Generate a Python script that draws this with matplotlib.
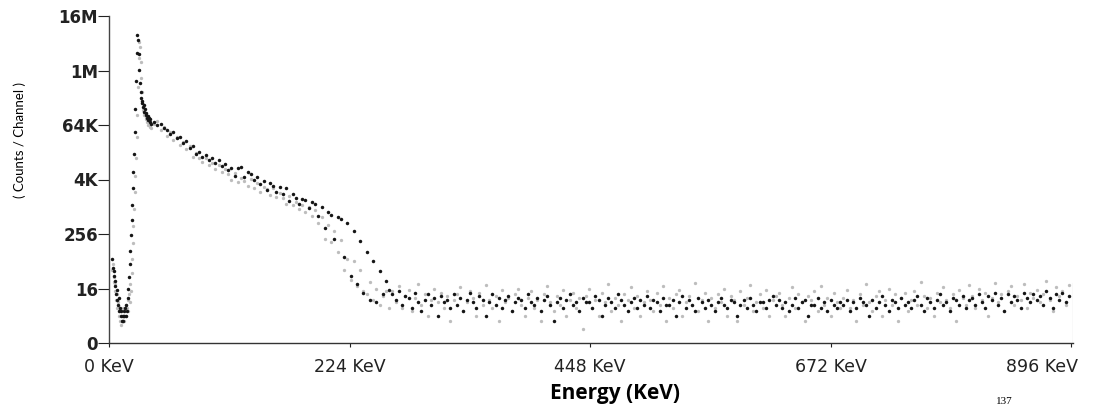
import numpy as np
import matplotlib
matplotlib.use("Agg")
import matplotlib.pyplot as plt
from matplotlib.transforms import ScaledTranslation

# channel energies (keV): fine grid over the low-energy peak, coarse grid after it
e_fine = np.arange(3.0, 39.01, 0.6)
e_coarse = np.arange(42, 895, 3)

# ---- black series (counts / channel) ----
black_fine = [70, 45, 30, 38, 18, 24, 12, 15, 9, 7,
              10, 5, 6, 4, 5, 3, 4, 3, 5, 4,
              6, 4, 7, 5, 10, 16, 28, 55, 110, 240,
              520, 1100, 2600, 6000, 15000, 45000, 150000, 600000, 2.5e6, 6.5e6,
              5.0e6, 2.4e6, 1.1e6, 5.5e5, 3.5e5, 2.6e5, 2.0e5, 2.2e5, 1.6e5, 1.8e5,
              1.3e5, 1.45e5, 1.1e5, 1.2e5, 9.5e4, 1.05e5, 8.5e4, 9.5e4, 7.5e4, 8.8e4,
              7.0e4]
black_slope = [7.5e4, 6.5e4, 7.0e4, 5.5e4, 5.0e4, 4.2e4, 4.6e4, 3.4e4, 3.5e4, 2.6e4,
               2.9e4, 2.0e4, 2.2e4, 1.5e4, 1.7e4, 1.3e4, 1.4e4, 1.1e4, 1.25e4, 9.5e3,
               1.1e4, 8.0e3, 9.0e3, 6.5e3, 7.5e3, 5.0e3, 7.2e3, 7.6e3, 4.6e3, 6.0e3,
               5.5e3, 4.0e3, 4.6e3, 3.3e3, 3.8e3, 2.4e3, 3.4e3, 3.0e3, 2.2e3, 2.8e3,
               2.0e3, 2.6e3, 1.4e3, 2.0e3, 1.6e3, 1.2e3, 1.5e3, 1.45e3, 950, 1.3e3]
black_shoulder = [1200, 650, 1000, 350, 800, 680, 200, 600, 550, 80,
                  450, 30, 300, 20, 180, 13, 100, 9, 65, 8,
                  38, 12, 24, 15]
black_noise = [12, 9, 14, 7, 11, 10, 6, 13, 8, 5, 9, 12, 7, 10, 4, 11, 8, 9, 6, 12,
               7, 10, 5, 9, 13, 8, 6, 11, 9, 4, 8, 12, 7, 10, 6, 9, 11, 5, 8, 10,
               9, 6, 12, 8, 7, 10, 5, 9, 11, 7, 3, 8, 10, 6, 9, 12, 7, 8, 5, 10,
               8, 8, 6, 11, 9, 4, 7, 10, 8, 6, 12, 9, 7, 5, 8, 10, 6, 9, 7, 11,
               6, 9, 8, 5, 10, 7, 7, 9, 4, 8, 11, 6, 9, 7, 5, 10, 8, 6, 9, 7,
               5, 8, 10, 7, 6, 9, 8, 4, 7, 9, 6, 10, 7, 5, 8, 8, 6, 9, 11, 7,
               9, 6, 8, 5, 7, 10, 6, 8, 9, 4, 7, 7, 10, 6, 8, 5, 9, 7, 6, 8,
               7, 9, 5, 8, 6, 10, 8, 7, 4, 9, 6, 8, 11, 7, 5, 9, 8, 6, 10, 7,
               8, 6, 9, 11, 7, 5, 10, 8, 6, 9, 12, 7, 8, 5, 10, 9, 7, 11, 6, 9,
               10, 7, 12, 8, 6, 11, 9, 13, 7, 10, 5, 12, 8, 11, 9, 6, 13, 10, 8, 12,
               9, 11, 7, 14, 10, 6, 12, 9, 13, 8, 11]

# ---- gray series (counts / channel) ----
gray_fine = [40, 55, 22, 28, 14, 20, 9, 12, 6, 8,
             4, 6, 3, 5, 2.5, 4, 3, 6, 4, 3,
             5, 7, 4, 6, 9, 5, 12, 8, 20, 14,
             35, 70, 160, 380, 900, 2200, 5000, 12000, 35000, 110000,
             450000, 2.0e6, 4.5e6, 3.5e6, 1.6e6, 7.0e5, 3.5e5, 2.0e5, 1.4e5, 1.5e5,
             1.1e5, 1.2e5, 9.0e4, 1.0e5, 7.5e4, 8.5e4, 6.5e4, 7.5e4, 6.0e4, 6.5e4,
             5.5e4]
gray_slope = [7.0e4, 8.0e4, 5.0e4, 6.0e4, 3.8e4, 4.5e4, 3.0e4, 3.6e4, 2.4e4, 2.8e4,
              1.9e4, 2.3e4, 1.3e4, 1.6e4, 1.2e4, 1.0e4, 1.2e4, 8.5e3, 9.5e3, 7.0e3,
              8.5e3, 6.0e3, 7.0e3, 5.5e3, 4.0e3, 5.8e3, 3.6e3, 4.5e3, 3.8e3, 3.0e3,
              4.2e3, 2.6e3, 3.4e3, 2.2e3, 2.8e3, 2.5e3, 1.9e3, 2.6e3, 1.7e3, 2.1e3,
              1.6e3, 1.2e3, 1.8e3, 1.1e3, 1.3e3, 900, 1.1e3, 800, 1.0e3, 650]
gray_shoulder = [850, 450, 600, 200, 400, 170, 300, 100, 190, 42,
                 70, 25, 65, 18, 40, 14, 12, 22, 9, 16,
                 7, 11, 14, 6]
gray_noise = [14, 8, 18, 6, 11, 15, 5, 10, 20, 7, 12, 4, 9, 16, 8, 13, 6, 11, 3, 9,
              12, 17, 5, 8, 14, 10, 4, 13, 7, 19, 9, 6, 11, 3, 15, 8, 10, 5, 12, 16,
              7, 4, 10, 14, 6, 9, 3, 12, 18, 8, 5, 11, 7, 15, 4, 9, 13, 6, 10, 2,
              11, 16, 6, 9, 4, 13, 8, 20, 5, 10, 7, 3, 12, 9, 17, 6, 11, 4, 8, 14,
              9, 5, 13, 7, 18, 3, 10, 6, 12, 15, 4, 8, 11, 7, 21, 5, 9, 13, 3, 10,
              6, 12, 8, 16, 4, 11, 9, 3, 14, 7, 10, 19, 5, 8, 12, 6, 15, 4, 9, 11,
              13, 7, 4, 10, 17, 6, 12, 8, 3, 11, 9, 14, 5, 18, 7, 10, 4, 13, 8, 6,
              10, 15, 6, 9, 3, 12, 7, 20, 8, 5, 11, 14, 4, 9, 16, 7, 12, 3, 10, 13,
              5, 9, 14, 7, 22, 11, 6, 10, 4, 13, 8, 17, 9, 6, 12, 3, 15, 10, 7, 19,
              11, 6, 16, 9, 13, 4, 10, 21, 8, 12, 5, 14, 18, 7, 11, 9, 20, 6, 13, 10,
              15, 8, 12, 24, 9, 5, 17, 11, 14, 7, 19]

y_ticks = [1, 16, 256, 4096, 65536, 16**5, 16**6]
y_labels = ['0', '16', '256', '4K', '64K', '1M', '16M']
x_ticks = [0, 224, 448, 672, 896]
x_labels = ['0 KeV', '224 KeV', '448 KeV', '672 KeV', '896 KeV']

energy = np.concatenate([e_fine, e_coarse])
black = np.concatenate([black_fine, black_slope, black_shoulder, black_noise])
gray = np.concatenate([gray_fine, gray_slope, gray_shoulder, gray_noise])

fig = plt.figure(figsize=(10.93, 4.09), dpi=100)
x0, x1 = 0, 898
ax = fig.add_axes([109/1093, 1 - 343/409, (x1 - x0)*1.0737/1093, 327/409])

ax.plot(energy, gray, 'o', color='#bdbdbd', ms=2.4, mew=0)
ax.plot(energy, black, 'o', color='#151515', ms=2.5, mew=0)

ax.set_yscale('log', base=16)
ax.set_ylim(1, 16**6)
ax.set_xlim(x0, x1)
ax.minorticks_off()

ax.set_yticks(y_ticks)
ax.set_yticklabels(y_labels, fontfamily='DejaVu Sans', fontweight='bold', fontsize=12)
ax.set_xticks(x_ticks)
ax.set_xticklabels(x_labels, fontfamily='DejaVu Sans', fontsize=12.5)
ax.tick_params(axis='y', direction='out', length=8, width=0.8, pad=0, colors='#222222')
ax.tick_params(axis='x', direction='out', length=3, width=0.8, pad=8, colors='#222222')

# last x label sits shifted left so it fits in the page
lab = ax.get_xticklabels()[-1]
lab.set_transform(lab.get_transform() + ScaledTranslation(-0.29, 0, fig.dpi_scale_trans))

for s in ['top', 'right']:
    ax.spines[s].set_visible(False)
ax.spines['left'].set_color('#444444')
ax.spines['bottom'].set_color('#333333')
ax.spines['left'].set_linewidth(1.0)
ax.spines['bottom'].set_linewidth(1.0)
ax.axvline(x1, ymin=0, ymax=60/327, color='#999999', lw=0.8)

fig.text(615/1093, 1 - 394/409, 'Energy (KeV)', ha='center', va='center',
         fontfamily='Open Sans', fontweight='bold', fontsize=15)
fig.text(20/1093, 1 - 140/409, '( Counts / Channel )', rotation=90, ha='center', va='center',
         fontfamily='Lato', fontsize=9.5)
fig.text(1004/1093, 1 - 401/409, '137', ha='center', va='center',
         fontfamily='Liberation Serif', fontsize=8)

fig.savefig('out.png', dpi=100)
